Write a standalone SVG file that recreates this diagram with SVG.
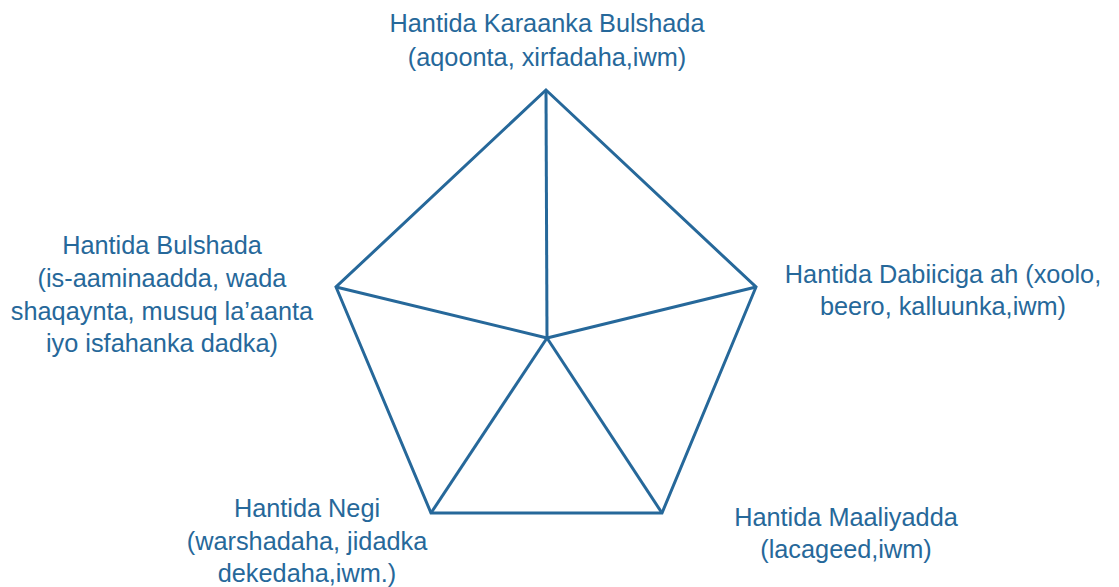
<svg xmlns="http://www.w3.org/2000/svg" width="1119" height="587" viewBox="0 0 1119 587">
<style>
.lbl{font-family:"Liberation Sans",Arial,sans-serif;font-size:25.3px;fill:#26689a;text-anchor:middle}
.ln{stroke:#26689a;stroke-width:3;fill:none;stroke-linejoin:miter}
</style>
<rect width="1119" height="587" fill="#fff"/>
<g id="connectors">
<polygon class="ln" points="546,90 756,287 662,513 431,513 336,287"/>
<line class="ln" x1="546" y1="90" x2="547" y2="338"/>
<line class="ln" x1="756" y1="287" x2="547" y2="338"/>
<line class="ln" x1="662" y1="513" x2="547" y2="338"/>
<line class="ln" x1="431" y1="513" x2="547" y2="338"/>
<line class="ln" x1="336" y1="287" x2="547" y2="338"/>
</g>
<g id="node-top"><text class="lbl" x="547" y="32">Hantida Karaanka Bulshada</text><text class="lbl" x="547" y="66">(aqoonta, xirfadaha,iwm)</text></g>
<g id="node-left"><text class="lbl" x="162" y="254">Hantida Bulshada</text><text class="lbl" x="162" y="287">(is-aaminaadda, wada</text><text class="lbl" x="162" y="320">shaqaynta, musuq la’aanta</text><text class="lbl" x="162" y="352">iyo isfahanka dadka)</text></g>
<g id="node-right"><text class="lbl" x="943" y="283">Hantida Dabiiciga ah (xoolo,</text><text class="lbl" x="943" y="315">beero, kalluunka,iwm)</text></g>
<g id="node-bl"><text class="lbl" x="307" y="517">Hantida Negi</text><text class="lbl" x="307" y="550">(warshadaha, jidadka</text><text class="lbl" x="307" y="582">dekedaha,iwm.)</text></g>
<g id="node-br"><text class="lbl" x="846" y="526">Hantida Maaliyadda</text><text class="lbl" x="846" y="558">(lacageed,iwm)</text></g>
</svg>
